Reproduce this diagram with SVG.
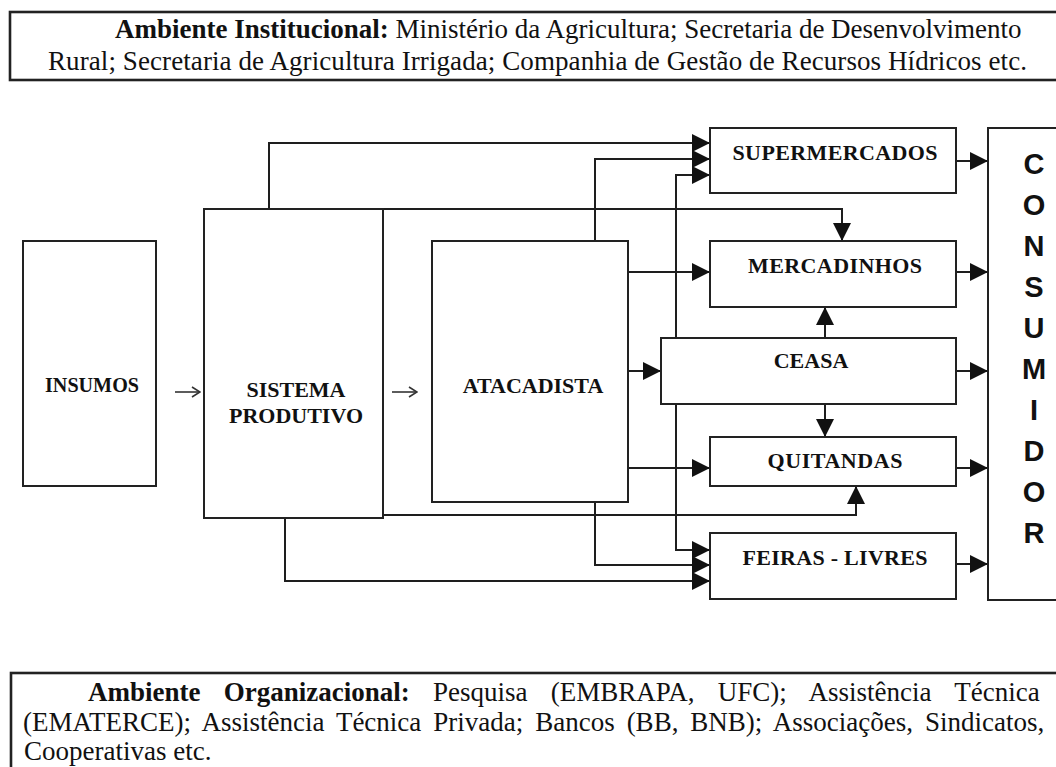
<svg xmlns="http://www.w3.org/2000/svg" width="1056" height="767" viewBox="0 0 1056 767">
<style>
.box{fill:#fff;stroke:#222;stroke-width:2}
.env-box{fill:#fff;stroke:#222;stroke-width:2.6}
.conn{fill:none;stroke:#1e1e1e;stroke-width:2}
.thin{fill:none;stroke:#333;stroke-width:1.6}
.lbl{font-family:"Liberation Serif","Times New Roman",serif;font-weight:bold;font-size:22px;fill:#111;text-anchor:middle}
.env{font-family:"Liberation Serif","Times New Roman",serif;font-size:27px;fill:#111}
.b{font-weight:bold}
.cons{font-family:"Liberation Sans",Arial,sans-serif;font-weight:bold;font-size:29px;fill:#111;text-anchor:middle}
</style>
<defs>
<marker id="ah" markerUnits="userSpaceOnUse" markerWidth="18" markerHeight="18" viewBox="0 0 18 18" refX="18" refY="9" orient="auto">
<path d="M0,0 L18,9 L0,18 z" fill="#111"/>
</marker>
<marker id="oa" markerUnits="userSpaceOnUse" markerWidth="10" markerHeight="12" viewBox="0 0 10 12" refX="9" refY="6" orient="auto">
<path d="M1,1 L9,6 L1,11" fill="none" stroke="#333" stroke-width="1.6"/>
</marker>
</defs>
<rect width="1056" height="767" fill="#fff"/>

<g id="ambiente-institucional">
<rect class="env-box" x="10" y="12" width="1060" height="68"/>
<text class="env" x="115" y="38"><tspan class="b">Ambiente Institucional:</tspan> Ministério da Agricultura; Secretaria de Desenvolvimento</text>
<text class="env" x="48" y="70" textLength="979" lengthAdjust="spacing">Rural; Secretaria de Agricultura Irrigada; Companhia de Gestão de Recursos Hídricos etc.</text>
</g>

<g id="connectors">
<path class="conn" d="M269,209 V143 H710" marker-end="url(#ah)"/>
<path class="conn" d="M595,241 V159 H710" marker-end="url(#ah)"/>
<path class="conn" d="M676,338 V175 H710" marker-end="url(#ah)"/>
<path class="conn" d="M383,209 H842 V241" marker-end="url(#ah)"/>
<path class="conn" d="M628,272 H710" marker-end="url(#ah)"/>
<path class="conn" d="M628,371 H661" marker-end="url(#ah)"/>
<path class="conn" d="M628,468 H710" marker-end="url(#ah)"/>
<path class="conn" d="M825,338 V307" marker-end="url(#ah)"/>
<path class="conn" d="M825,404 V437" marker-end="url(#ah)"/>
<path class="conn" d="M383,515 H856 V486" marker-end="url(#ah)"/>
<path class="conn" d="M676,404 V550 H710" marker-end="url(#ah)"/>
<path class="conn" d="M595,502 V565 H710" marker-end="url(#ah)"/>
<path class="conn" d="M285,518 V581 H710" marker-end="url(#ah)"/>
<path class="conn" d="M954,161 H988" marker-end="url(#ah)"/>
<path class="conn" d="M954,272 H988" marker-end="url(#ah)"/>
<path class="conn" d="M954,371 H988" marker-end="url(#ah)"/>
<path class="conn" d="M954,468 H988" marker-end="url(#ah)"/>
<path class="conn" d="M954,564 H988" marker-end="url(#ah)"/>
<path class="thin" d="M175,392 H200" marker-end="url(#oa)"/>
<path class="thin" d="M392,392 H417" marker-end="url(#oa)"/>
</g>

<g id="insumos">
<rect class="box" x="23" y="241" width="133" height="245"/>
<text class="lbl" x="92" y="392" font-size="20" textLength="94" lengthAdjust="spacingAndGlyphs">INSUMOS</text>
</g>

<g id="sistema-produtivo">
<rect class="box" x="204" y="209" width="179" height="309"/>
<text class="lbl" x="296" y="397">SISTEMA</text>
<text class="lbl" x="296" y="423">PRODUTIVO</text>
</g>

<g id="atacadista">
<rect class="box" x="432" y="241" width="196" height="261"/>
<text class="lbl" x="533" y="393">ATACADISTA</text>
</g>

<g id="supermercados">
<rect class="box" x="710" y="128" width="246" height="65"/>
<text class="lbl" x="835" y="160" textLength="205" lengthAdjust="spacing">SUPERMERCADOS</text>
</g>

<g id="mercadinhos">
<rect class="box" x="710" y="241" width="246" height="66"/>
<text class="lbl" x="835" y="273" textLength="174" lengthAdjust="spacing">MERCADINHOS</text>
</g>

<g id="ceasa">
<rect class="box" x="661" y="338" width="295" height="66"/>
<text class="lbl" x="811" y="368">CEASA</text>
</g>

<g id="quitandas">
<rect class="box" x="710" y="437" width="246" height="49"/>
<text class="lbl" x="835" y="468" textLength="135" lengthAdjust="spacing">QUITANDAS</text>
</g>

<g id="feiras-livres">
<rect class="box" x="710" y="533" width="246" height="66"/>
<text class="lbl" x="835" y="565" textLength="185" lengthAdjust="spacing">FEIRAS - LIVRES</text>
</g>

<g id="consumidor">
<rect class="box" x="988" y="128" width="80" height="472"/>
<text class="cons" x="1034" y="174">C</text>
<text class="cons" x="1034" y="215">O</text>
<text class="cons" x="1034" y="256">N</text>
<text class="cons" x="1034" y="297">S</text>
<text class="cons" x="1034" y="338">U</text>
<text class="cons" x="1034" y="379">M</text>
<text class="cons" x="1034" y="420">I</text>
<text class="cons" x="1034" y="461">D</text>
<text class="cons" x="1034" y="502">O</text>
<text class="cons" x="1034" y="543">R</text>
</g>

<g id="ambiente-organizacional">
<rect class="env-box" x="11" y="673" width="1060" height="110"/>
<text class="env" x="88" y="701" word-spacing="16.5"><tspan class="b">Ambiente Organizacional:</tspan> Pesquisa (EMBRAPA, UFC); Assistência Técnica</text>
<text class="env" x="23" y="731" word-spacing="5.2">(EMATERCE); Assistência Técnica Privada; Bancos (BB, BNB); Associações, Sindicatos,</text>
<text class="env" x="24" y="760">Cooperativas etc.</text>
</g>
</svg>
